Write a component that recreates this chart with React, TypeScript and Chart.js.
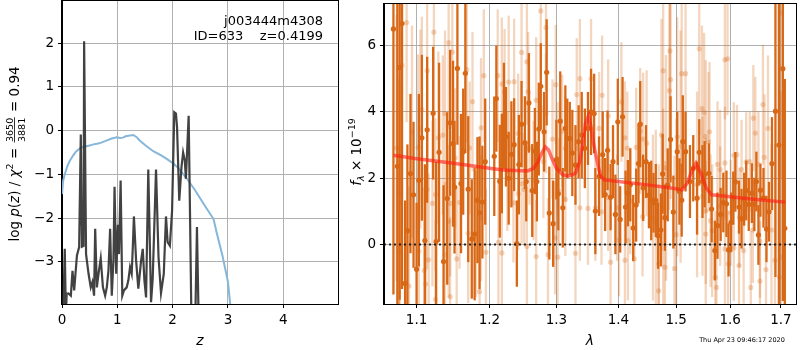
import React, { useEffect, useRef } from 'react';
import { Chart, registerables } from 'chart.js';
Chart.register(...registerables);

const FAM = '"DejaVu Sans", sans-serif';
Chart.defaults.font.family = FAM;

// ---------- Left panel: p(z) ----------
const pzZ = [0.0, 0.02, 0.05, 0.07, 0.085, 0.115, 0.16, 0.19, 0.22, 0.27, 0.31, 0.34, 0.36, 0.39, 0.40, 0.435, 0.48, 0.52, 0.55, 0.58, 0.60, 0.63, 0.66, 0.70, 0.74, 0.78, 0.81, 0.84, 0.87, 0.90, 0.93, 0.95, 0.98, 1.01, 1.03, 1.06, 1.09, 1.12, 1.17, 1.20, 1.23, 1.26, 1.28, 1.30, 1.34, 1.38, 1.43, 1.46, 1.49, 1.52, 1.56, 1.61, 1.64, 1.70, 1.745, 1.79, 1.84, 1.88, 1.91, 1.95, 1.99, 2.03, 2.06, 2.08, 2.12, 2.16, 2.19, 2.22, 2.24, 2.26, 2.29, 2.31, 2.34, 2.41, 2.44, 2.47, 2.55];
const pzLogP = [-4.6, -4.3, -2.7, -4.2, -3.73, -3.72, -3.77, -3.2, -3.65, -2.85, -2.66, -0.09, -2.65, -2.63, 2.04, -2.82, -3.27, -3.58, -3.46, -3.77, -2.24, -3.58, -3.27, -2.92, -3.58, -3.77, -3.58, -3.2, -2.24, -3.77, -2.97, -1.28, -3.27, -2.15, -2.82, -1.14, -3.77, -3.65, -3.58, -3.42, -3.12, -3.27, -2.67, -1.96, -2.97, -3.61, -2.97, -2.7, -3.42, -3.81, -0.89, -3.92, -3.38, -0.89, -2.89, -3.71, -3.27, -1.96, -2.55, -2.63, -1.83, 0.42, 0.39, 0.08, -1.6, -0.84, -0.5, -0.68, -1.1, -0.53, 0.34, -1.5, -4.3, -4.3, -2.2, -4.3, -6.0];
const chiZ = [0.0, 0.02, 0.054, 0.10, 0.145, 0.2, 0.25, 0.33, 0.4, 0.5, 0.55, 0.63, 0.7, 0.8, 0.9, 0.99, 1.05, 1.1, 1.15, 1.2, 1.29, 1.35, 1.4, 1.5, 1.65, 1.8, 1.9, 2.02, 2.1, 2.26, 2.4, 2.5, 2.6, 2.74, 2.8, 2.9, 3.0, 3.04, 3.08];
const chiLogP = [-1.45, -1.15, -0.98, -0.8, -0.68, -0.57, -0.48, -0.4, -0.37, -0.34, -0.32, -0.3, -0.28, -0.23, -0.18, -0.15, -0.17, -0.16, -0.13, -0.12, -0.1, -0.15, -0.22, -0.33, -0.47, -0.57, -0.65, -0.76, -0.85, -1.1, -1.35, -1.55, -1.75, -2.02, -2.35, -2.85, -3.45, -3.95, -4.5];
const zTicks = [0, 1, 2, 3, 4];
const pzTicks = [-3, -2, -1, 0, 1, 2];
const zLimits = [0, 4.99];
const pzLimits = [-3.96, 2.96];
const idLine1 = 'j003444m4308';
const idLine2 = 'ID=633    z=0.4199';

// ---------- Right panel: spectrum ----------
const darkLam = [1.070, 1.075, 1.078, 1.081, 1.085, 1.088, 1.092, 1.096, 1.100, 1.103, 1.107, 1.111, 1.114, 1.122, 1.126, 1.130, 1.136, 1.141, 1.145, 1.149, 1.151, 1.155, 1.160, 1.163, 1.166, 1.170, 1.175, 1.179, 1.183, 1.186, 1.190, 1.194, 1.207, 1.210, 1.215, 1.218, 1.221, 1.224, 1.228, 1.232, 1.236, 1.240, 1.243, 1.247, 1.252, 1.254, 1.258, 1.263, 1.267, 1.270, 1.273, 1.276, 1.281, 1.285, 1.289, 1.295, 1.300, 1.303, 1.306, 1.310, 1.314, 1.317, 1.321, 1.325, 1.330, 1.335, 1.340, 1.345, 1.350, 1.355, 1.360, 1.362, 1.368, 1.374, 1.378, 1.382, 1.387, 1.391, 1.395, 1.399, 1.403, 1.407, 1.412, 1.416, 1.420, 1.425, 1.430, 1.434, 1.437, 1.442, 1.447, 1.452, 1.456, 1.460, 1.464, 1.468, 1.473, 1.476, 1.480, 1.485, 1.490, 1.495, 1.502, 1.506, 1.510, 1.512, 1.517, 1.525, 1.531, 1.538, 1.542, 1.548, 1.552, 1.560, 1.565, 1.571, 1.576, 1.582, 1.587, 1.593, 1.597, 1.602, 1.606, 1.610, 1.617, 1.622, 1.627, 1.631, 1.636, 1.642, 1.647, 1.651, 1.655, 1.659, 1.665, 1.671, 1.676, 1.682, 1.689, 1.696, 1.704, 1.708];
const darkFlux = [6.5, 2.36, 5.34, 6.66, -1.17, 0.42, 2.14, 1.5, -0.74, 1.94, 3.22, 0.12, 3.46, 3.96, 0.09, 2.78, -0.51, 1.39, 3.67, 3.04, 1.73, 5.31, 1.84, 2.8, 5.16, 1.67, 0.17, 0.32, 1.34, 0.96, 1.28, 2.5, 2.66, 4.4, 1.91, 2.44, 3.88, 3.25, 2.0, 2.72, 3.01, 0.03, 2.41, 3.63, 3.07, 1.9, 4.27, 1.63, 2.82, 1.9, 3.48, 4.77, 3.4, 5.19, 0.95, 0.63, 2.56, 1.53, 3.72, 1.11, 3.5, 3.2, 3.2, 2.76, 2.4, 3.1, 3.3, 2.9, 3.5, 4.0, 3.95, 1.01, 2.06, 2.71, 1.51, 2.84, 1.43, 2.5, 0.91, 3.7, 0.76, 3.85, 1.13, 1.55, 1.8, 0.5, 1.19, 2.44, 3.63, 1.71, 2.5, 1.49, 1.33, 1.26, 1.33, 0.27, 0.44, 2.13, 0.81, 1.8, 3.17, 0.98, 2.8, 1.6, 1.34, 3.1, 2.8, 1.9, 2.3, 1.4, 2.78, 1.9, 2.12, 2.15, 1.07, -0.18, 0.57, 0.91, 1.27, 1.23, -0.16, 0.67, 1.4, 1.89, 1.13, 0.78, 1.37, 1.63, 1.21, 1.55, 1.21, 1.9, 0.29, 1.64, 1.41, 0.47, 0.99, 2.44, 4.02, 3.0, 5.3, 0.49];
const darkErr = [8, 6, 7, 8, 2.5, 2.6, 2.4, 2.2, 2.0, 2.6, 2.5, 2.3, 2.2, 2.0, 2.4, 2.7, 2.3, 2.6, 2.2, 2.5, 2.0, 2.3, 2.1, 1.9, 2.4, 2.2, 1.8, 2.0, 1.9, 2.3, 1.7, 1.9, 1.8, 1.6, 1.7, 1.5, 1.6, 1.5, 1.4, 1.6, 1.4, 1.3, 1.5, 1.3, 1.4, 1.2, 1.5, 1.4, 1.3, 1.2, 1.4, 1.3, 1.2, 1.6, 1.4, 1.3, 1.2, 1.1, 1.5, 1.2, 1.3, 1.2, 1.1, 1.3, 1.2, 1.1, 1.3, 1.2, 1.1, 1.3, 1.2, 1.3, 1.2, 1.3, 1.1, 1.2, 1.0, 1.1, 1.2, 1.3, 1.0, 1.2, 1.1, 1.0, 1.1, 1.0, 1.1, 1.2, 1.3, 1.0, 1.1, 1.0, 1.2, 0.9, 1.1, 1.0, 1.1, 1.2, 1.0, 1.1, 1.3, 1.1, 1.2, 1.0, 1.1, 1.4, 1.2, 1.1, 1.0, 1.1, 1.0, 1.1, 1.0, 0.9, 1.0, 0.9, 1.0, 0.8, 0.9, 1.0, 0.8, 0.9, 0.8, 0.9, 0.8, 0.9, 0.8, 0.9, 0.8, 0.9, 0.8, 0.9, 0.9, 0.8, 0.9, 1.0, 0.9, 1.4, 5, 6, 7, 4.5];
const lightLam = [1.074, 1.077, 1.077, 1.078, 1.081, 1.087, 1.090, 1.094, 1.102, 1.103, 1.105, 1.107, 1.110, 1.112, 1.114, 1.114, 1.116, 1.121, 1.123, 1.125, 1.125, 1.129, 1.135, 1.138, 1.138, 1.143, 1.143, 1.145, 1.145, 1.148, 1.152, 1.154, 1.158, 1.168, 1.170, 1.172, 1.176, 1.181, 1.186, 1.188, 1.188, 1.192, 1.195, 1.212, 1.213, 1.218, 1.218, 1.222, 1.226, 1.228, 1.235, 1.236, 1.242, 1.242, 1.247, 1.247, 1.251, 1.255, 1.255, 1.257, 1.259, 1.265, 1.269, 1.269, 1.276, 1.280, 1.284, 1.284, 1.287, 1.294, 1.298, 1.299, 1.302, 1.302, 1.304, 1.309, 1.314, 1.314, 1.330, 1.332, 1.337, 1.337, 1.350, 1.355, 1.362, 1.368, 1.372, 1.373, 1.383, 1.383, 1.387, 1.398, 1.401, 1.405, 1.411, 1.411, 1.415, 1.416, 1.420, 1.427, 1.430, 1.437, 1.441, 1.442, 1.448, 1.459, 1.464, 1.469, 1.469, 1.474, 1.477, 1.477, 1.480, 1.482, 1.488, 1.489, 1.490, 1.497, 1.500, 1.502, 1.508, 1.510, 1.517, 1.538, 1.542, 1.547, 1.548, 1.551, 1.554, 1.554, 1.554, 1.559, 1.561, 1.563, 1.566, 1.572, 1.574, 1.576, 1.581, 1.581, 1.590, 1.590, 1.590, 1.595, 1.596, 1.601, 1.607, 1.607, 1.613, 1.617, 1.618, 1.622, 1.626, 1.631, 1.638, 1.640, 1.644, 1.645, 1.649, 1.655, 1.658, 1.658, 1.664, 1.667, 1.670, 1.674, 1.681, 1.688, 1.697, 1.700, 1.700];
const lightFlux = [2.91, 1.56, -0.2, 1.27, 5.4, 6.69, -1.25, 3.4, 2.93, -0.2, 3.48, 4.07, -0.78, -1.19, 5.24, 1.66, -0.46, 1.24, 6.4, 1.51, -1.65, 3.22, 3.3, 3.95, -0.31, 6.09, 0.7, 1.24, -1.57, 5.8, 2.61, -0.43, 1.27, 5.27, 0.34, 2.91, 4.31, 0.32, -1.42, 3.52, 0.8, 5.09, -0.23, 5.09, 0.07, 4.84, -0.25, 4.6, 2.21, 4.9, 1.26, 4.91, 3.35, 1.53, 5.79, 1.83, 1.66, 5.51, -0.06, 4.61, 2.9, 1.93, 4.35, -0.36, 7.04, 2.5, 6.54, 3.95, -0.3, 3.18, 0.2, 4.82, 2.59, -0.38, 1.61, 3.42, 2.9, 1.36, -0.26, 4.52, 5.0, 1.11, 1.09, 5.0, 1.11, 3.5, 0.99, 4.5, 3.88, 1.41, -0.53, 1.11, 0.14, 4.3, 3.22, -0.47, 2.91, 0.12, 1.31, -0.43, 2.93, 3.42, 0.84, 3.18, 3.05, 0.81, 0.66, -0.58, -1.39, 3.3, 5.24, 1.1, -0.68, 2.31, 4.64, 5.84, 4.97, -0.72, 0.3, 3.25, 2.95, 5.15, 5.15, 1.81, 5.9, 4.1, 1.46, 3.98, 3.26, 1.01, 0.32, 3.1, 3.4, 0.72, 0.42, -0.99, -1.29, 2.42, 2.26, 1.16, 5.57, 2.46, -0.13, 5.6, -0.58, 0.96, 2.69, -0.1, 2.71, -0.63, 0.82, 2.26, -0.18, 2.49, 2.5, -1.29, 0.44, 3.81, 3.36, 2.42, 0.1, -1.1, 4.22, 2.63, -0.75, 3.5, 0.44, -0.47, -0.98, 6.98, -0.38];
const lightErr = [4, 3.5, 3.2, 3.6, 4, 3, 3, 3.2, 2.8, 2.6, 3, 2.8, 2.5, 2.7, 2.6, 2.4, 2.6, 2.5, 2.4, 2.3, 2.4, 2.6, 2.4, 2.5, 2.2, 2.6, 2.3, 2.2, 2.4, 2.3, 2.1, 2.2, 2.0, 2.2, 2.1, 2.0, 2.1, 1.9, 2.0, 2.1, 1.9, 2.0, 1.9, 2.0, 1.9, 2.0, 1.8, 1.9, 1.8, 2.0, 1.8, 1.9, 1.8, 1.7, 2.0, 1.8, 1.7, 1.9, 1.8, 1.8, 1.7, 1.8, 1.9, 1.7, 2.0, 1.7, 1.9, 1.8, 1.7, 1.8, 1.7, 1.8, 1.7, 1.8, 1.6, 1.7, 1.6, 1.7, 1.8, 1.7, 1.8, 1.6, 1.7, 1.8, 1.6, 1.7, 1.6, 1.8, 1.7, 1.6, 1.7, 1.6, 1.7, 1.8, 1.7, 1.6, 1.7, 1.8, 1.6, 1.7, 1.8, 1.9, 1.8, 2.0, 2.2, 2.5, 2.8, 3, 3.2, 3.5, 3.5, 3.0, 3.2, 3.4, 3.6, 3.8, 3.6, 3.4, 3.5, 3.6, 3.5, 3.2, 3.0, 2.8, 2.6, 2.5, 2.4, 2.4, 2.3, 2.2, 2.2, 2.1, 2.1, 2.0, 2.0, 2.0, 1.9, 1.9, 1.8, 1.8, 1.8, 1.7, 1.7, 1.7, 1.6, 1.6, 1.6, 1.6, 1.5, 1.6, 1.5, 1.5, 1.6, 1.5, 1.5, 1.7, 1.6, 1.6, 1.7, 1.6, 1.7, 1.8, 1.8, 1.9, 2.0, 2.2, 2.6, 3.5, 4, 5, 5];
const modelLam = [1.07, 1.10, 1.15, 1.20, 1.22, 1.256, 1.265, 1.272, 1.278, 1.283, 1.288, 1.293, 1.30, 1.31, 1.32, 1.33, 1.337, 1.342, 1.346, 1.351, 1.355, 1.36, 1.366, 1.371, 1.377, 1.40, 1.45, 1.50, 1.511, 1.52, 1.528, 1.536, 1.545, 1.555, 1.565, 1.60, 1.65, 1.709];
const modelFlux = [2.69, 2.59, 2.45, 2.3, 2.25, 2.22, 2.3, 2.5, 2.78, 2.94, 2.85, 2.6, 2.3, 2.1, 2.07, 2.15, 2.5, 3.1, 3.65, 3.88, 3.55, 2.95, 2.4, 2.05, 1.95, 1.9, 1.8, 1.68, 1.65, 1.85, 2.2, 2.45, 2.15, 1.7, 1.5, 1.44, 1.36, 1.28];
const lamTicks = [1.1, 1.2, 1.3, 1.4, 1.5, 1.6, 1.7];
const fluxTicks = [0, 2, 4, 6];
const lamLimits = [1.058, 1.731];
const fluxLimits = [-1.79, 7.25];
const stamp = 'Thu Apr 23 09:46:17 2020';

const DARK = 'rgb(217,104,22)';
const LIGHT = 'rgba(217,104,22,0.28)';
const GRID = '#b0b0b0';
const minus = (s: string) => s.replace('-', '\u2212');

type Seg = { t: string; font: string; dy?: number; frac?: [string, string] };

function drawRich(ctx: CanvasRenderingContext2D, segs: Seg[], x: number, y: number) {
  const widths = segs.map((s) => {
    ctx.font = s.font;
    if (s.frac) return Math.max(ctx.measureText(s.frac[0]).width, ctx.measureText(s.frac[1]).width) + 3;
    return ctx.measureText(s.t).width;
  });
  const total = widths.reduce((a, b) => a + b, 0);
  let cx = x - total / 2;
  ctx.fillStyle = '#000';
  ctx.textBaseline = 'alphabetic';
  segs.forEach((s, i) => {
    ctx.font = s.font;
    const w = widths[i];
    if (s.frac) {
      ctx.textAlign = 'center';
      ctx.fillText(s.frac[0], cx + w / 2, y - 6.5);
      ctx.fillText(s.frac[1], cx + w / 2, y + 5.5);
      ctx.fillRect(cx + 1, y - 5, w - 2, 0.8);
      ctx.textAlign = 'left';
    } else {
      ctx.textAlign = 'left';
      ctx.fillText(s.t, cx, y + (s.dy || 0));
    }
    cx += w;
  });
}

const framePlugin = {
  id: 'frame',
  afterDatasetsDraw(chart: any) {
    const { ctx, chartArea: a } = chart;
    ctx.save();
    ctx.strokeStyle = '#000';
    ctx.lineWidth = 1;
    ctx.strokeRect(Math.round(a.left) - 0.5, Math.round(a.top) - 0.5, Math.round(a.right - a.left) + 1, Math.round(a.bottom - a.top) + 1);
    ctx.restore();
  },
};

function axisOpts(kind: string, limits: number[], ticks: number[], fmt: (v: number) => string, fit: (s: any) => void) {
  return {
    type: kind,
    min: limits[0],
    max: limits[1],
    afterBuildTicks: (s: any) => {
      s.ticks = ticks.map((v) => ({ value: v }));
    },
    afterFit: (s: any) => {
      fit(s);
      s.paddingTop = 0;
      s.paddingBottom = 0;
      s.paddingLeft = 0;
      s.paddingRight = 0;
    },
    grid: { color: GRID, lineWidth: 1, tickColor: '#000', tickLength: 4, drawTicks: true },
    border: { display: true, color: '#000', width: 1 },
    ticks: { color: '#000', font: { size: 13.5, family: FAM }, padding: 4, autoSkip: false, maxRotation: 0, callback: (v: any) => fmt(Number(v)) },
  };
}

function LeftPanel() {
  const ref = useRef<HTMLCanvasElement>(null);
  useEffect(() => {
    const titles = {
      id: 'leftTitles',
      afterDraw(chart: any) {
        const ctx = chart.ctx;
        const a = chart.chartArea;
        ctx.save();
        ctx.fillStyle = '#000';
        ctx.font = `13px ${FAM}`;
        ctx.textAlign = 'right';
        ctx.textBaseline = 'alphabetic';
        ctx.fillText(idLine1, 323, 25);
        ctx.fillText(idLine2, 323, 40);
        ctx.font = `italic 14px ${FAM}`;
        ctx.textAlign = 'center';
        ctx.fillText('z', (a.left + a.right) / 2, 345);
        ctx.translate(19, 154);
        ctx.rotate(-Math.PI / 2);
        const n = `13.5px ${FAM}`;
        const it = `italic 13.5px ${FAM}`;
        const sm = `9.5px ${FAM}`;
        drawRich(ctx, [
          { t: 'log ', font: n },
          { t: 'p', font: it },
          { t: '(', font: n },
          { t: 'z', font: it },
          { t: ') / ', font: n },
          { t: '\u03c7', font: it },
          { t: '2', font: sm, dy: -6 },
          { t: ' = ', font: n },
          { t: '', font: sm, frac: ['3650', '3881'] },
          { t: ' = 0.94', font: n },
        ], 0, 0);
        ctx.restore();
      },
    };
    const chart = new Chart(ref.current!, {
      type: 'line',
      data: {
        datasets: [
          { data: pzZ.map((z, i) => ({ x: z, y: pzLogP[i] })), borderColor: 'rgba(50,50,50,0.92)', borderWidth: 2.2, pointRadius: 0, tension: 0, clip: 0 } as any,
          { data: chiZ.map((z, i) => ({ x: z, y: chiLogP[i] })), borderColor: 'rgb(134,182,218)', borderWidth: 2, pointRadius: 0, tension: 0, clip: 0 } as any,
        ],
      },
      options: {
        animation: false,
        responsive: false,
        events: [],
        layout: { padding: { left: 0, right: 7, top: 1, bottom: 0 } },
        plugins: { legend: { display: false }, tooltip: { enabled: false } },
        scales: {
          x: axisOpts('linear', zLimits, zTicks, (v) => minus(String(v)), (s: any) => { s.height = 46; }),
          y: axisOpts('linear', pzLimits, pzTicks, (v) => minus(String(v)), (s: any) => { s.width = 62; }),
        },
      } as any,
      plugins: [framePlugin, titles],
    });
    return () => chart.destroy();
  }, []);
  return <canvas ref={ref} width={345} height={350} style={{ position: 'absolute', left: 0, top: 0, width: 345, height: 350 }} />;
}

function RightPanel() {
  const ref = useRef<HTMLCanvasElement>(null);
  useEffect(() => {
    const errBars = (lam: number[], f: number[], e: number[], color: string, order: number) =>
      lam.map((l, i) => ({
        data: [{ x: l, y: f[i] - e[i] }, { x: l, y: f[i] + e[i] }],
        borderColor: color,
        borderWidth: 2.3,
        borderCapStyle: 'butt',
        pointRadius: 0,
        clip: 0,
        order,
      }));
    const pts = (lam: number[], f: number[], color: string, order: number) => ({
      data: lam.map((l, i) => ({ x: l, y: f[i] })),
      showLine: false,
      borderWidth: 0,
      borderColor: 'rgba(0,0,0,0)',
      pointRadius: 2.6,
      pointBorderWidth: 0,
      pointBackgroundColor: color,
      clip: 0,
      order,
    });
    const titles = {
      id: 'rightTitles',
      afterDraw(chart: any) {
        const ctx = chart.ctx;
        const a = chart.chartArea;
        ctx.save();
        ctx.fillStyle = '#000';
        ctx.font = `italic 14px ${FAM}`;
        ctx.textAlign = 'center';
        ctx.textBaseline = 'alphabetic';
        ctx.fillText('\u03bb', (a.left + a.right) / 2, 345);
        ctx.font = `6.5px ${FAM}`;
        ctx.fillText(stamp, 397, 342);
        ctx.translate(16, 152);
        ctx.rotate(-Math.PI / 2);
        const n = `13.5px ${FAM}`;
        const it = `italic 13.5px ${FAM}`;
        const smi = `italic 9.5px ${FAM}`;
        const sm = `9.5px ${FAM}`;
        drawRich(ctx, [
          { t: 'f', font: it },
          { t: '\u03bb', font: smi, dy: 3 },
          { t: ' \u00d7 10', font: n },
          { t: '\u221219', font: sm, dy: -6 },
        ], 0, 0);
        ctx.restore();
      },
    };
    const datasets: any[] = [
      { data: [{ x: lamLimits[0], y: 0 }, { x: lamLimits[1], y: 0 }], borderColor: 'rgba(20,20,20,0.9)', borderWidth: 2, borderDash: [2, 3], pointRadius: 0, clip: 0, order: 0 },
      { data: modelLam.map((l, i) => ({ x: l, y: modelFlux[i] })), borderColor: 'rgba(255,30,20,0.62)', borderWidth: 3.5, pointRadius: 0, tension: 0, clip: 0, order: 1 },
      pts(darkLam, darkFlux, DARK, 2),
      ...errBars(darkLam, darkFlux, darkErr, DARK, 3),
      pts(lightLam, lightFlux, LIGHT, 4),
      ...errBars(lightLam, lightFlux, lightErr, LIGHT, 5),
    ];
    const chart = new Chart(ref.current!, {
      type: 'line',
      data: { datasets },
      options: {
        animation: false,
        responsive: false,
        events: [],
        layout: { padding: { left: 0, right: 1, top: 1, bottom: 0 } },
        plugins: { legend: { display: false }, tooltip: { enabled: false } },
        scales: {
          x: axisOpts('logarithmic', lamLimits, lamTicks, (v) => v.toFixed(1), (s: any) => { s.height = 46; }),
          y: axisOpts('linear', fluxLimits, fluxTicks, (v) => minus(String(v)), (s: any) => { s.width = 39; }),
        },
      } as any,
      plugins: [framePlugin, titles],
    });
    return () => chart.destroy();
  }, []);
  return <canvas ref={ref} width={455} height={350} style={{ position: 'absolute', left: 345, top: 0, width: 455, height: 350 }} />;
}

export default function App() {
  return (
    <div style={{ position: 'fixed', left: 0, top: 0, width: 800, height: 350, background: '#fff' }}>
      <LeftPanel />
      <RightPanel />
    </div>
  );
}
